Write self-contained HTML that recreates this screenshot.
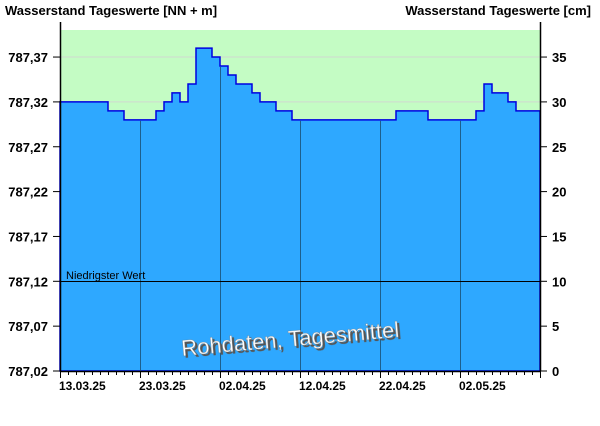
<!DOCTYPE html>
<html><head><meta charset="utf-8"><style>
body{margin:0;background:#fff;width:600px;height:426px;overflow:hidden}
svg{display:block;font-family:"Liberation Sans",Arial,sans-serif}
</style></head><body>
<svg id="chart" width="600" height="426" viewBox="0 0 600 426">
<text x="5" y="15" font-size="13" font-weight="bold">Wasserstand Tageswerte [NN + m]</text>
<text x="591" y="15" font-size="13" font-weight="bold" text-anchor="end">Wasserstand Tageswerte [cm]</text>
<rect x="60" y="30" width="480" height="341" fill="#c4fcc4"/>
<g id="grid"></g>
<path id="area" fill="#2ea8ff" stroke="#0000e0" stroke-width="1.5"/>
<g id="vgrid"></g>
<line x1="60" x2="540" y1="281.5" y2="281.5" stroke="#000" stroke-width="1"/>
<text x="66" y="279" font-size="11">Niedrigster Wert</text>
<text x="0" y="0" font-size="22" fill="#fff" stroke="#666" stroke-width="0.3" transform="translate(182,356) rotate(-5)" style="filter:drop-shadow(2px 2px 0 #555)">Rohdaten, Tagesmittel</text>
<g id="axes"></g>
</svg>
<script>
const values=[30,30,30,30,30,30,29,29,28,28,28,28,29,30,31,30,32,36,36,35,34,33,32,32,31,30,30,29,29,
28,28,28,28,28,28,28,28,28,28,28,28,28,29,29,29,29,28,28,28,28,28,28,29,32,31,31,30,29,29,29];
const leftTicks=["787,02","787,07","787,12","787,17","787,22","787,27","787,32","787,37"];
const rightTicks=[0,5,10,15,20,25,30,35];
const dateLabels=["13.03.25","23.03.25","02.04.25","12.04.25","22.04.25","02.05.25"];
const NS="http://www.w3.org/2000/svg";
const x0=60,x1=540,y0=371,pxPerCm=8.97;
const dayW=(x1-x0)/values.length;
const X=i=>x0+i*dayW, Y=v=>y0-v*pxPerCm;
function mk(tag,attrs,parent){const e=document.createElementNS(NS,tag);for(const k in attrs)e.setAttribute(k,attrs[k]);parent.appendChild(e);return e;}
// area
let d=`M${x0},${y0}`;
values.forEach((v,i)=>{d+=` L${X(i)},${Y(v)} L${X(i+1)},${Y(v)}`;});
d+=` L${x1},${y0} Z`;
document.getElementById('area').setAttribute('d',d);
const grid=document.getElementById('grid'),vg=document.getElementById('vgrid'),ax=document.getElementById('axes');
rightTicks.forEach(t=>{const l=mk('line',{x1:x0,x2:x1,y1:Y(t),y2:Y(t),stroke:'#d0d8d0','stroke-width':1},grid);

});
dateLabels.forEach((s,k)=>{const i=k*10;const xx=X(i)+0.5;
if(k>0){const l=mk('line',{x1:xx,x2:xx,y1:y0,y2:Y(values[i])+1,stroke:'#1d5f8c','stroke-width':1},vg);

}
const t=mk('text',{x:X(i)-1,y:390,'font-size':12,'font-weight':'bold'},ax);t.textContent=s;

});
for(let i=0;i<=values.length;i++){const xx=X(i)+0.5;mk('line',{x1:xx,x2:xx,y1:y0,y2:y0+(i%10==0?7:4),stroke:'#000'},ax);}
mk('line',{x1:60.5,x2:60.5,y1:22,y2:y0,stroke:'#000','stroke-width':1.5},ax);
mk('line',{x1:540.5,x2:540.5,y1:22,y2:y0,stroke:'#000','stroke-width':1.5},ax);
mk('line',{x1:60,x2:541,y1:y0+0.5,y2:y0+0.5,stroke:'#000','stroke-width':1.5},ax);
leftTicks.forEach((s,k)=>{const yy=Y(rightTicks[k]);
mk('line',{x1:53,x2:60,y1:yy,y2:yy,stroke:'#000'},ax);
const t=mk('text',{x:48,y:yy+5,'font-size':13,'font-weight':'bold','text-anchor':'end'},ax);t.textContent=s;


mk('line',{x1:540,x2:547,y1:yy,y2:yy,stroke:'#000'},ax);
const r=mk('text',{x:552,y:yy+5,'font-size':13,'font-weight':'bold'},ax);r.textContent=rightTicks[k];

});
</script>
</body></html>
